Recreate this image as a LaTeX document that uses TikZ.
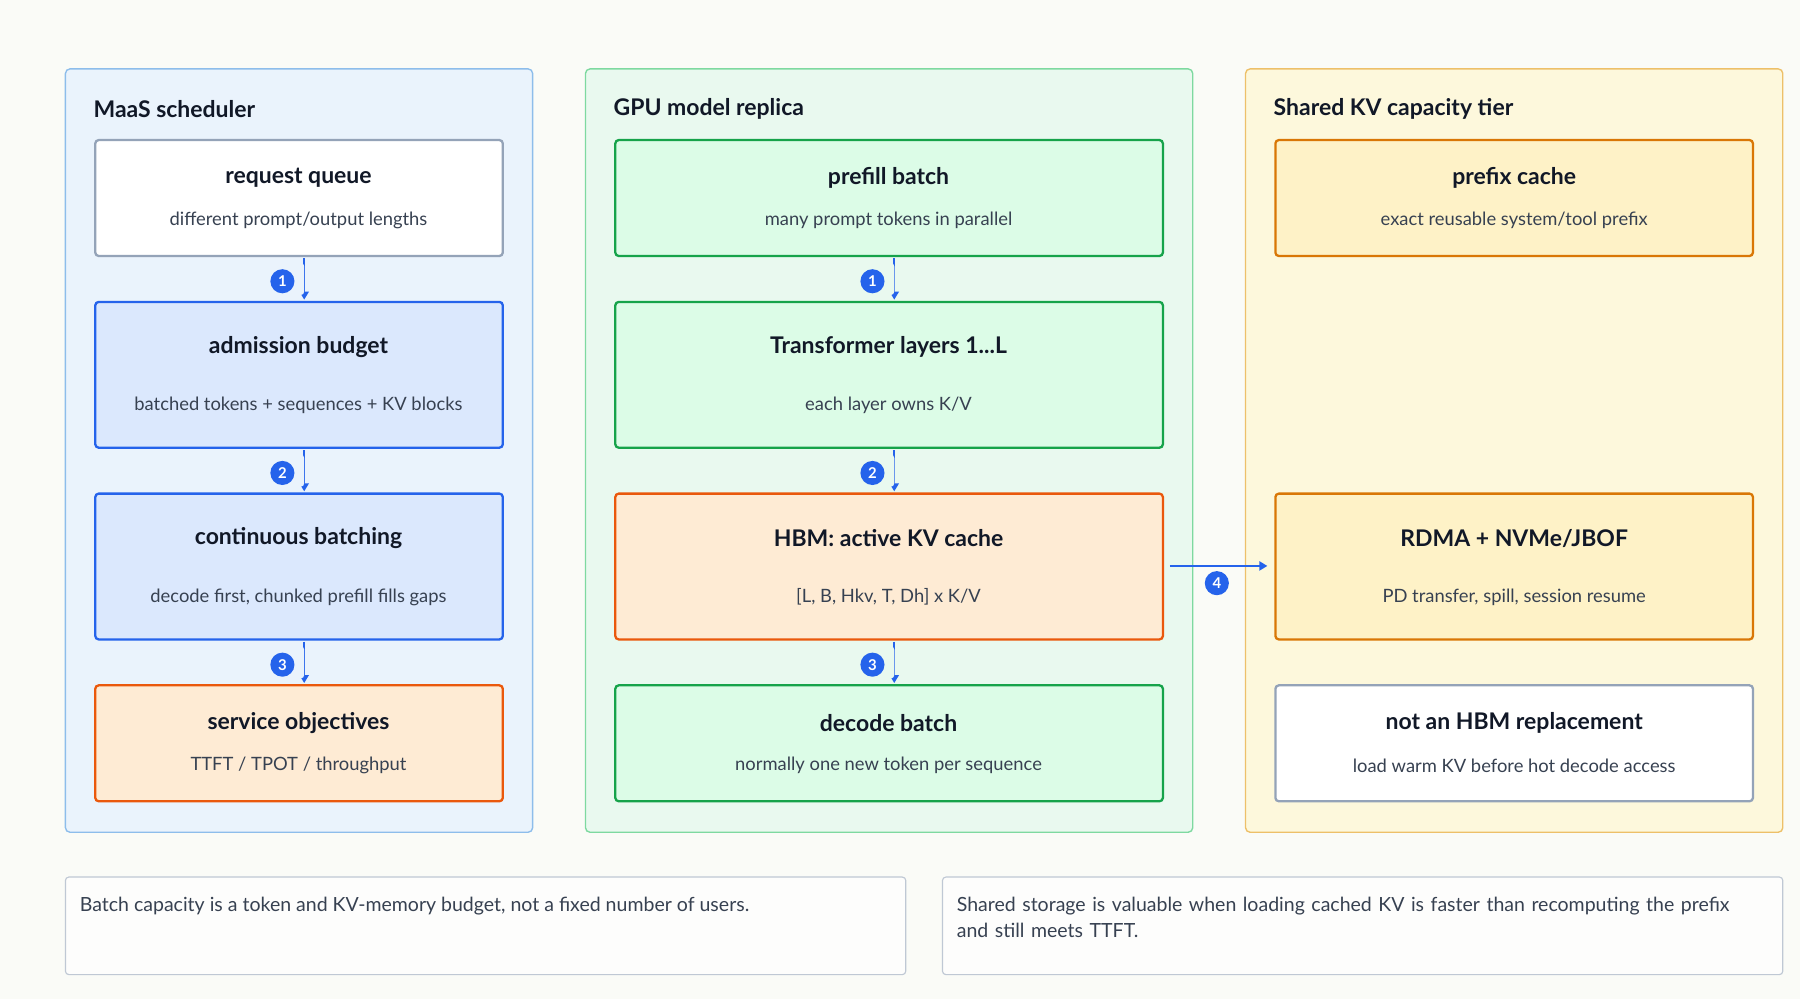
\documentclass[tikz,border=0pt]{standalone}
\usepackage{fontspec}
\setmainfont{Lato}
\usetikzlibrary{arrows.meta}
\definecolor{bg}{HTML}{FAFBF7}
\definecolor{blueS}{HTML}{2563EB}\definecolor{blueF}{HTML}{DBE8FD}
\definecolor{greenS}{HTML}{16A34A}\definecolor{greenF}{HTML}{DCFCE7}
\definecolor{orS}{HTML}{EA580C}\definecolor{orF}{HTML}{FEEBD4}
\definecolor{yeS}{HTML}{D97706}\definecolor{yeF}{HTML}{FEF2C7}
\definecolor{grS}{HTML}{94A3B8}
\definecolor{ink}{HTML}{111827}\definecolor{sub}{HTML}{374151}
\definecolor{p1S}{HTML}{8DBDEB}\definecolor{p1F}{HTML}{EAF3FC}
\definecolor{p2S}{HTML}{7ED9A0}\definecolor{p2F}{HTML}{E9F9EF}
\definecolor{p3S}{HTML}{EDC069}\definecolor{p3F}{HTML}{FDF8DC}
\tikzset{
 panel/.style 2 args={draw=#1,fill=#2,line width=1.2pt,rounded corners=4pt},
 box/.style 2 args={draw=#1,fill=#2,line width=2pt,rounded corners=3pt},
 ttl/.style={font=\bfseries\fontsize{20}{24}\selectfont,text=ink},
 sub/.style={font=\fontsize{16}{19}\selectfont,text=sub},
 badge/.style={circle,fill=blueS,text=white,inner sep=0pt,minimum size=21pt,font=\bfseries\fontsize{13}{14}\selectfont},
 bbg/.style={fill=#1,minimum width=30pt,minimum height=28pt,inner sep=0pt,rounded corners=3pt},
 arr/.style={blueS,line width=1.5pt,-{Triangle[length=7pt,width=8pt]}},
 note/.style={draw=grS!60,fill=white!60!bg,line width=1pt,rounded corners=3pt},
 ntxt/.style={font=\fontsize{17}{23}\selectfont,text=sub,anchor=north west,align=left},
}
\begin{document}
\begin{tikzpicture}[x=1pt,y=-1pt]
\useasboundingbox[fill=bg] (0,0) rectangle (1568,870);
% panels
\draw[panel={p1S}{p1F}] (57,60) rectangle (464,725);
\draw[panel={p2S}{p2F}] (510,60) rectangle (1039,725);
\draw[panel={p3S}{p3F}] (1085,60) rectangle (1553,725);
\node[ttl,anchor=west] (t1) at (78,95) {MaaS scheduler};
\node[ttl,anchor=west] (t2) at (531,95) {GPU model replica};
\node[ttl,anchor=west] (t3) at (1106,95) {Shared KV capacity tier};
% column 1
\draw[box={grS}{white}] (83,122) rectangle (438,223);
\node[ttl] (a1) at (260,155) {request queue};
\node[sub] at (260,192) {different prompt/output lengths};
\draw[box={blueS}{blueF}] (83,263) rectangle (438,390);
\node[ttl] (a2) at (260,302) {admission budget};
\node[sub] at (260,353) {batched tokens + sequences + KV blocks};
\draw[box={blueS}{blueF}] (83,430) rectangle (438,557);
\node[ttl] (a3) at (260,469) {continuous batching};
\node[sub] at (260,520) {decode first, chunked prefill fills gaps};
\draw[box={orS}{orF}] (83,597) rectangle (438,698);
\node[ttl] (a4) at (260,630) {service objectives};
\node[sub] at (260,667) {TTFT / TPOT / throughput};
% column 2
\draw[box={greenS}{greenF}] (536,122) rectangle (1013,223);
\node[ttl] (b1) at (774,155) {prefill batch};
\node[sub] at (774,192) {many prompt tokens in parallel};
\draw[box={greenS}{greenF}] (536,263) rectangle (1013,390);
\node[ttl] (b2) at (774,302) {Transformer layers 1...L};
\node[sub] at (774,353) {each layer owns K/V};
\draw[box={orS}{orF}] (536,430) rectangle (1013,557);
\node[ttl] (b3) at (774,469) {HBM: active KV cache};
\node[sub] at (774,520) {[L, B, Hkv, T, Dh] x K/V};
\draw[box={greenS}{greenF}] (536,597) rectangle (1013,698);
\node[ttl] (b4) at (774,630) {decode batch};
\node[sub] at (774,667) {normally one new token per sequence};
% column 3
\draw[box={yeS}{yeF}] (1111,122) rectangle (1527,223);
\node[ttl] (c1) at (1319,155) {prefix cache};
\node[sub] at (1319,192) {exact reusable system/tool prefix};
\draw[box={yeS}{yeF}] (1111,430) rectangle (1527,557);
\node[ttl] (c3) at (1319,469) {RDMA + NVMe/JBOF};
\node[sub] at (1319,520) {PD transfer, spill, session resume};
\draw[box={grS}{white}] (1111,597) rectangle (1527,698);
\node[ttl] (c4) at (1319,630) {not an HBM replacement};
\node[sub] at (1319,667) {load warm KV before hot decode access};
% vertical connectors with badges
\foreach \x/\c in {265/p1F,779/p2F}{
 \foreach \ya/\yb/\n in {225/261/1,392/428/2,559/595/3}{
  \coordinate (s\n) at (\x,\ya); \coordinate (e\n) at (\x,\yb);
  \draw[arr] (s\n) -- (e\n);
  \node[bbg=\c] at (\x-15,{(\ya+\yb)/2}) {};
  \node[badge] (k\n) at (\x-19,{(\ya+\yb)/2+2}) {\n};
 }
}
\coordinate (h1) at (1019,493); \coordinate (h2) at (1104,493);
\draw[arr] (h1) -- (h2);
\node[badge] (k4) at (1060,508) {4};
% notes
\draw[note] (57,764) rectangle (789,849);
\node[ntxt] (n1) at (66,778) {Batch capacity is a token and KV-memory budget, not a fixed number of users.};
\draw[note] (821,764) rectangle (1553,849);
\node[ntxt,text width=700pt] (n2) at (830,778) {Shared storage is valuable when loading cached KV is faster than recomputing the prefix and still meets TTFT.};
\end{tikzpicture}
\end{document}
